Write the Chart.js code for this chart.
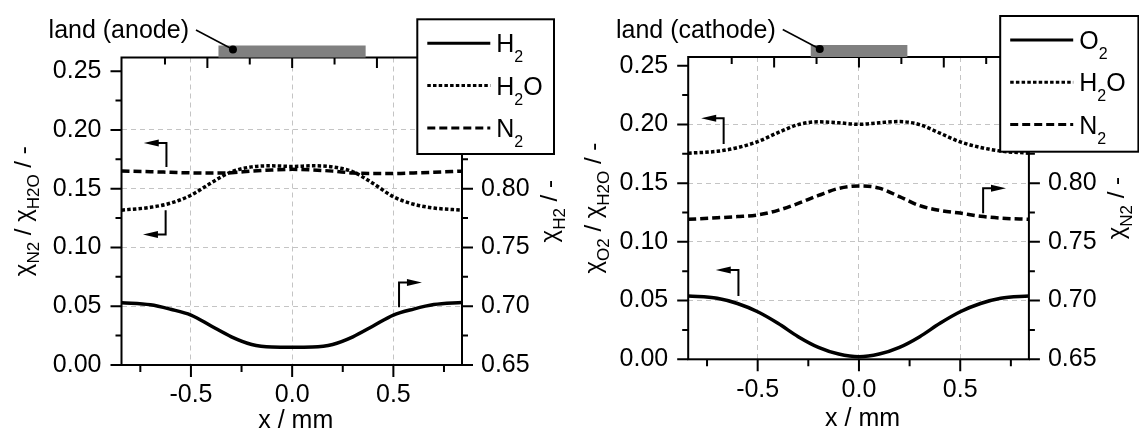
<!DOCTYPE html>
<html>
<head>
<meta charset="utf-8">
<script src="https://cdn.jsdelivr.net/npm/chart.js@4.4.0/dist/chart.umd.min.js"></script>
<style>
  html, body { margin: 0; padding: 0; background: #fff; }
  #wrap { position: relative; width: 1139px; height: 433px; overflow: hidden; }
  canvas { position: absolute; top: 0; }
</style>
</head>
<body>
<div id="wrap">
  <canvas id="anode" width="570" height="433" style="left:0;width:570px;height:433px"></canvas>
  <canvas id="cathode" width="569" height="433" style="left:570px;width:569px;height:433px"></canvas>
</div>
<script>
// data (x in mm, mole fractions)
const xPos = [-0.843, -0.7, -0.6, -0.5, -0.4, -0.3, -0.2, -0.1, 0, 0.1, 0.2, 0.3, 0.4, 0.5, 0.6, 0.7, 0.839];

// anode side: H2 on right axis, H2O + N2 on left axis
const anodeH2  = [0.7030, 0.7012, 0.6974, 0.6925, 0.6832, 0.6740, 0.6675, 0.6653, 0.6651, 0.6653, 0.6675, 0.6740, 0.6832, 0.6925, 0.6976, 0.7014, 0.7032];
const anodeH2O = [0.1318, 0.1342, 0.1378, 0.1445, 0.1550, 0.1644, 0.1686, 0.1695, 0.1690, 0.1695, 0.1686, 0.1644, 0.1545, 0.1432, 0.1368, 0.1336, 0.1318];
const anodeN2  = [0.1650, 0.1645, 0.1640, 0.1635, 0.1633, 0.1636, 0.1650, 0.1660, 0.1665, 0.1660, 0.1650, 0.1634, 0.1630, 0.1630, 0.1635, 0.1640, 0.1650];

// cathode side: O2 + H2O on left axis, N2 on right axis
const cathodeO2  = [0.0539, 0.0520, 0.0475, 0.0405, 0.0307, 0.0193, 0.0102, 0.0045, 0.0022, 0.0045, 0.0102, 0.0193, 0.0307, 0.0405, 0.0475, 0.0520, 0.0540];
const cathodeH2O = [0.1755, 0.1771, 0.1802, 0.1853, 0.1930, 0.1998, 0.2022, 0.2014, 0.2001, 0.2014, 0.2024, 0.1998, 0.1925, 0.1851, 0.1804, 0.1773, 0.1755];
const cathodeN2  = [0.7692, 0.7705, 0.7715, 0.7729, 0.7768, 0.7827, 0.7895, 0.7955, 0.7976, 0.7958, 0.7885, 0.7808, 0.7768, 0.7745, 0.7718, 0.7702, 0.7692];

// ticks
const xTicks = [-0.5, 0, 0.5];
const yLeftTicks = [0, 0.05, 0.10, 0.15, 0.20, 0.25];
const yRightTicks = [0.65, 0.70, 0.75, 0.80, 0.85, 0.90];
const topTickStep = 0.2094;

// land (rib) extents in mm
const anodeLand = [-0.364, 0.363];
const cathodeLand = [-0.238, 0.239];

const FONT = "'Liberation Sans', Arial, sans-serif";
const SOLID = [], DOTS = [3.5, 2.2], DASH = [8, 4];

function pts(ys) {
  return xPos.map((x, i) => ({ x, y: ys[i] }));
}

function line(data, dash, axis) {
  return {
    data: pts(data), yAxisID: axis,
    borderColor: '#000', borderWidth: 3.5, borderDash: dash,
    pointRadius: 0, fill: false, cubicInterpolationMode: 'monotone'
  };
}

function drawRich(ctx, parts, x, y, size, subSize, drop) {
  let cx = x;
  parts.forEach(([t, sub]) => {
    ctx.font = (sub ? subSize : size) + 'px ' + FONT;
    ctx.fillText(t, cx, y + (sub ? drop : 0));
    cx += ctx.measureText(t).width;
  });
  return cx - x;
}

function richWidth(ctx, parts, size, subSize) {
  let w = 0;
  parts.forEach(([t, sub]) => {
    ctx.font = (sub ? subSize : size) + 'px ' + FONT;
    w += ctx.measureText(t).width;
  });
  return w;
}

// everything around the plot: frame, ticks, land bar, titles, legend, arrows
function decor(p) {
  return {
    id: 'decor',
    afterDraw(chart) {
      const { ctx, chartArea: a } = chart;
      const x = chart.scales.x, y = chart.scales.y, y2 = chart.scales.y2;
      ctx.save();
      ctx.strokeStyle = '#000';
      ctx.fillStyle = '#000';
      ctx.lineWidth = 2;
      ctx.strokeRect(a.left, a.top, a.width, a.height);

      ctx.beginPath();
      for (let k = 0; k * 0.025 <= y.max + 1e-9; k++) {
        const py = y.getPixelForValue(k * 0.025);
        ctx.moveTo(a.left, py); ctx.lineTo(a.left - (k % 2 ? 6 : 11), py);
      }
      for (let k = 0; 0.65 + k * 0.025 <= y2.max + 1e-9; k++) {
        const py = y2.getPixelForValue(0.65 + k * 0.025);
        ctx.moveTo(a.right, py); ctx.lineTo(a.right + (k % 2 ? 6 : 11), py);
      }
      for (let k = -3; k <= 3; k++) {
        const px = x.getPixelForValue(k * 0.25);
        ctx.moveTo(px, a.bottom); ctx.lineTo(px, a.bottom + (k % 2 ? 7 : 12));
      }
      for (let k = -3; k <= 3; k++) {
        const px = x.getPixelForValue(k * topTickStep);
        ctx.moveTo(px, a.top); ctx.lineTo(px, a.top + (k % 2 ? 7 : 10.5));
      }
      ctx.stroke();

      // land bar + label
      const l0 = x.getPixelForValue(p.land[0]), l1 = x.getPixelForValue(p.land[1]);
      ctx.fillStyle = '#808080';
      ctx.fillRect(l0, a.top - 12, l1 - l0, 12);
      ctx.fillStyle = '#000';
      const dx = l0 + p.dotOff, dy = a.top - 8;
      ctx.beginPath(); ctx.arc(dx, dy, 4, 0, Math.PI * 2); ctx.fill();
      ctx.lineWidth = 1.5;
      ctx.beginPath(); ctx.moveTo(dx, dy); ctx.lineTo(dx - 37, dy - 19.5); ctx.stroke();
      ctx.font = '25px ' + FONT;
      ctx.textAlign = 'right';
      ctx.textBaseline = 'alphabetic';
      ctx.fillText(p.landLabel, dx - 44, a.top - 19.5);
      ctx.textAlign = 'left';

      // x title
      ctx.font = '25px ' + FONT;
      ctx.textAlign = 'center';
      ctx.textBaseline = 'middle';
      ctx.fillText('x / mm', (a.left + a.right) / 2 + 4, p.xTitleY);
      ctx.textAlign = 'left';
      ctx.textBaseline = 'alphabetic';

      // y titles (rotated, read bottom to top)
      const cy = (a.top + a.bottom) / 2;
      [[p.leftTitle, p.leftTitleX], [p.rightTitle, a.right + 95]].forEach(([parts, bx]) => {
        const w = richWidth(ctx, parts, 24, 17);
        ctx.save();
        ctx.translate(bx, cy);
        ctx.rotate(-Math.PI / 2);
        drawRich(ctx, parts, -w / 2, 0, 24, 17, 8);
        ctx.restore();
      });

      // arrows showing which axis a curve belongs to
      ctx.lineWidth = 2;
      p.flags.forEach(f => {
        const sx = x.getPixelForValue(f.x), hy = y.getPixelForValue(f.arrow);
        const tip = x.getPixelForValue(f.head), dir = Math.sign(tip - sx);
        ctx.beginPath();
        ctx.moveTo(sx, y.getPixelForValue(f.stem));
        ctx.lineTo(sx, hy);
        ctx.lineTo(tip - dir * 10, hy);
        ctx.stroke();
        ctx.beginPath();
        ctx.moveTo(tip, hy);
        ctx.lineTo(tip - dir * 15, hy - 3.5);
        ctx.lineTo(tip - dir * 15, hy + 3.5);
        ctx.closePath();
        ctx.fill();
      });

      // legend
      const b = p.legendBox;
      ctx.fillStyle = '#fff';
      ctx.fillRect(b[0], b[1], b[2], b[3]);
      ctx.lineWidth = 2;
      ctx.strokeRect(b[0], b[1], b[2], b[3]);
      ctx.fillStyle = '#000';
      p.legend.forEach((e, i) => {
        const ly = b[1] + 24 + i * 42.3;
        ctx.lineWidth = 3;
        ctx.setLineDash(e.dash);
        ctx.beginPath(); ctx.moveTo(b[0] + 10, ly); ctx.lineTo(b[0] + 73, ly); ctx.stroke();
        ctx.setLineDash([]);
        ctx.textBaseline = 'alphabetic';
        drawRich(ctx, e.parts, b[0] + 79, ly + 9, 25, 16, 10);
      });
      ctx.restore();
    }
  };
}

function makeChart(id, p) {
  const gridColor = c => (c.tick.value > 0.001 && c.tick.value < 0.249) ? '#c4c4c4' : 'rgba(0,0,0,0)';
  return new Chart(document.getElementById(id), {
    type: 'line',
    data: { datasets: p.datasets },
    options: {
      responsive: false,
      animation: false,
      events: [],
      layout: { padding: { top: p.area.top, left: 0, right: 0, bottom: 0 } },
      plugins: { legend: { display: false }, tooltip: { enabled: false } },
      scales: {
        x: {
          type: 'linear', min: -0.843, max: 0.839,
          afterBuildTicks: s => { s.ticks = xTicks.map(v => ({ value: v })); },
          afterFit: s => { s.height = 433 - p.area.bottom; },
          grid: { color: '#c4c4c4', lineWidth: 1, drawTicks: false },
          border: { display: false, dash: [5, 4] },
          ticks: { font: { size: 25, family: FONT }, color: '#000', padding: p.xPad, autoSkip: false, maxRotation: 0,
                   callback: v => v.toFixed(1) }
        },
        y: {
          type: 'linear', position: 'left', min: 0, max: p.yMax,
          afterBuildTicks: s => { s.ticks = yLeftTicks.filter(v => v <= p.yMax).map(v => ({ value: v })); },
          afterFit: s => { s.width = p.area.left; },
          grid: { color: gridColor, lineWidth: 1, drawTicks: false },
          border: { display: false, dash: [5, 4] },
          ticks: { font: { size: 25, family: FONT }, color: '#000', padding: 20, callback: v => v.toFixed(2) }
        },
        y2: {
          type: 'linear', position: 'right', min: 0.65, max: 0.65 + p.yMax,
          afterBuildTicks: s => { s.ticks = yRightTicks.filter(v => v <= 0.65 + p.yMax).map(v => ({ value: v })); },
          afterFit: s => { s.width = p.canvasW - p.area.right; },
          grid: { display: false, drawTicks: false },
          border: { display: false },
          ticks: { font: { size: 25, family: FONT }, color: '#000', padding: 19, callback: v => v.toFixed(2) }
        }
      }
    },
    plugins: [decor(p)]
  });
}

makeChart('anode', {
  canvasW: 570,
  area: { left: 121.5, right: 462, top: 57.5, bottom: 365 },
  yMax: 0.2617, xPad: 15, xTitleY: 421,
  datasets: [line(anodeH2, SOLID, 'y2'), line(anodeH2O, DOTS, 'y'), line(anodeN2, DASH, 'y')],
  land: anodeLand, dotOff: 14.5, landLabel: 'land (anode)',
  leftTitle: [['χ'], ['N2', 1], [' / χ'], ['H2O', 1], [' / -']], leftTitleX: 31,
  rightTitle: [['χ'], ['H2', 1], [' / -']],
  legendBox: [417.3, 19.3, 136.7, 134.7],
  legend: [
    { parts: [['H'], ['2', 1]], dash: SOLID },
    { parts: [['H'], ['2', 1], ['O']], dash: DOTS },
    { parts: [['N'], ['2', 1]], dash: DASH }
  ],
  flags: [
    { x: -0.621, stem: 0.1686, arrow: 0.189, head: -0.733 },
    { x: -0.625, stem: 0.1318, arrow: 0.1111, head: -0.737 },
    { x: 0.528, stem: 0.0491, arrow: 0.0703, head: 0.641 }
  ]
});

makeChart('cathode', {
  canvasW: 569,
  area: { left: 118.2, right: 458.9, top: 57, bottom: 359.3 },
  yMax: 0.2574, xPad: 15.5, xTitleY: 419,
  datasets: [line(cathodeO2, SOLID, 'y'), line(cathodeH2O, DOTS, 'y'), line(cathodeN2, DASH, 'y2')],
  land: cathodeLand, dotOff: 9, landLabel: 'land (cathode)',
  leftTitle: [['χ'], ['O2', 1], [' / χ'], ['H2O', 1], [' / -']], leftTitleX: 31,
  rightTitle: [['χ'], ['N2', 1], [' / -']],
  legendBox: [430.2, 16, 138.2, 135.7],
  legend: [
    { parts: [['O'], ['2', 1]], dash: SOLID },
    { parts: [['H'], ['2', 1], ['O']], dash: DOTS },
    { parts: [['N'], ['2', 1]], dash: DASH }
  ],
  flags: [
    { x: -0.668, stem: 0.1834, arrow: 0.2053, head: -0.779 },
    { x: 0.613, stem: 0.1244, arrow: 0.1457, head: 0.726 },
    { x: -0.595, stem: 0.0539, arrow: 0.0761, head: -0.707 }
  ]
});
</script>
</body>
</html>
